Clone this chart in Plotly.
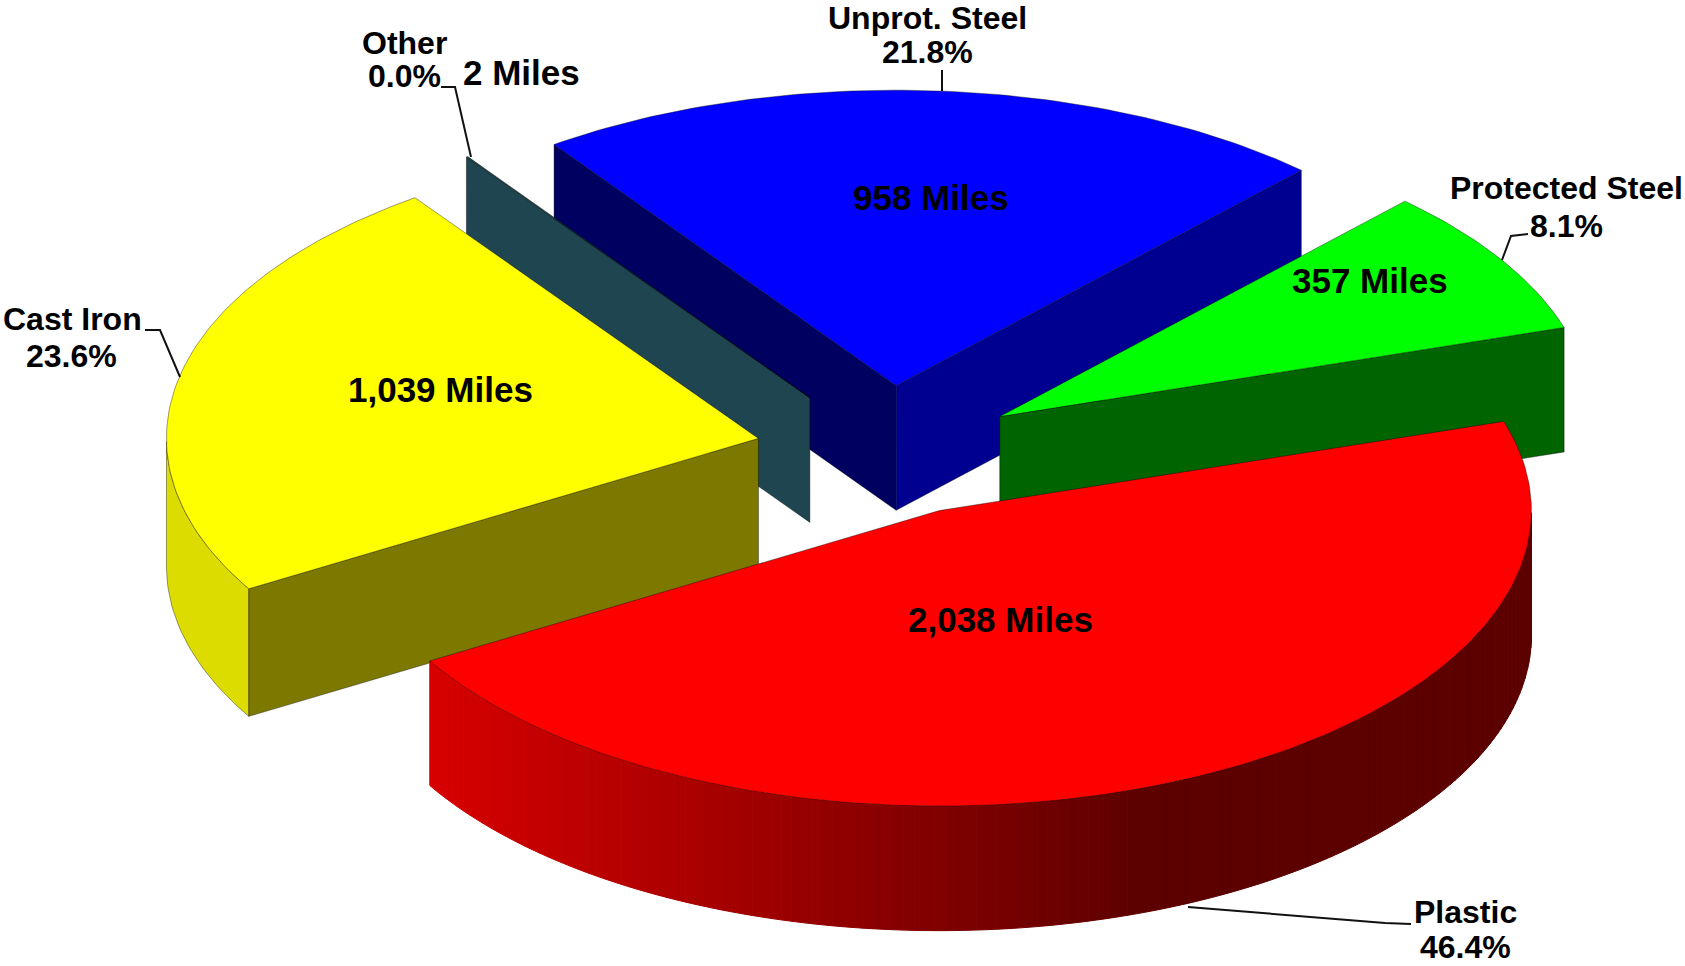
import numpy as np
import plotly.graph_objects as go

# ---- data ----
categories = ["Unprot. Steel", "Protected Steel", "Plastic", "Cast Iron", "Other"]
miles = [958, 357, 2038, 1039, 2]

# ---- styles ----
top_colors = ["#0000ff", "#00ff00", "#ff0000", "#ffff00", "#1f4550"]
start_wall_colors = ["#000060", "#006400", "#600000", "#7c7800", "#1f4550"]
end_wall_colors = ["#000090", "#006400", "#600000", "#7c7800", "#1f4550"]
rim_colors = ["#000090", "#006400", None, "#dcdc00", "#1f4550"]
pulls = [0.225, 0.225, 0.217, 0.222, 0.225]
depths = [124.6, 124.6, 124.6, 127.6, 124.6]
paint_order = [0, 4, 1, 3, 2]

W, H = 1685, 966
CX, CY, RX, RY = 887, 452, 592, 295.5
START_ANGLE = 125.3
EDGE = "rgba(0,0,0,0.38)"

total = sum(miles)
fractions = [m / total for m in miles]
angles = [START_ANGLE]
for f in fractions:
    angles.append(angles[-1] - 360 * f)


def project(t, ox, oy):
    r = np.radians(t)
    return ox + RX * np.cos(r), oy - RY * np.sin(r)


def poly(xs, ys, color, line=None):
    return go.Scatter(
        x=list(xs) + [xs[0]], y=list(ys) + [ys[0]], mode="lines", fill="toself",
        fillcolor=color, line=dict(color=line or color, width=1),
        hoverinfo="skip", showlegend=False,
    )


def red_gradient(x):
    f = min(max((x - 425) / (1150 - 425), 0), 1)
    return f"rgb({int(round(216 - f * 124))},0,0)"


fig = go.Figure()

for i in paint_order:
    a0, a1 = angles[i], angles[i + 1]
    mid = np.radians((a0 + a1) / 2)
    ox = CX + pulls[i] * RX * np.cos(mid)
    oy = CY - pulls[i] * RY * np.sin(mid)
    depth = depths[i]

    # outer rim: only the part that faces the viewer
    ts = np.arange(a0, a1 - 1e-9, -1.0).tolist() + [a1]
    front = [t for t in ts if np.sin(np.radians(t)) <= 0]
    if len(front) > 1:
        if rim_colors[i] is None:
            for k in range(len(front) - 1):
                seg = front[k:k + 2]
                px = [project(t, ox, oy)[0] for t in seg]
                py = [project(t, ox, oy)[1] for t in seg]
                xs = px + px[::-1]
                ys = py + [y + depth for y in py[::-1]]
                fig.add_trace(poly(xs, ys, red_gradient(sum(px) / len(px))))
        else:
            px = [project(t, ox, oy)[0] for t in front]
            py = [project(t, ox, oy)[1] for t in front]
            fig.add_trace(poly(px + px[::-1], py + [y + depth for y in py[::-1]], rim_colors[i], EDGE))

    # radial walls: only those that face the viewer
    if np.cos(np.radians(a0)) < 0:
        x0, y0 = project(a0, ox, oy)
        fig.add_trace(poly([ox, x0, x0, ox], [oy, y0, y0 + depth, oy + depth], start_wall_colors[i], EDGE))
    if np.cos(np.radians(a1)) > 0:
        x1, y1 = project(a1, ox, oy)
        fig.add_trace(poly([ox, x1, x1, ox], [oy, y1, y1 + depth, oy + depth], end_wall_colors[i], EDGE))

    # top face
    tx = [ox] + [project(t, ox, oy)[0] for t in ts]
    ty = [oy] + [project(t, ox, oy)[1] for t in ts]
    fig.add_trace(poly(tx, ty, top_colors[i], EDGE))

# ---- texts ----
FONT = "Liberation Sans"
pct = [f"{100 * f:.1f}%" for f in fractions]
miles_txt = [f"{m:,} Miles" for m in miles]

name_pos = [(927, 18), (1566, 188), (1465, 912), (72, 319), (404, 43)]
pct_pos = [(927, 52), (1566, 226), (1465, 947), (71, 356), (404, 76)]
miles_pos = [(931, 197), (1370, 280), (1000, 619), (440, 389), (521, 72)]

annots = []


def label(x, y, text, size):
    annots.append(dict(x=x, y=y, xref="x", yref="y", text=f"<b>{text}</b>", showarrow=False,
                       xanchor="center", yanchor="middle",
                       font=dict(family=FONT, size=size, color="#000000")))


for i in range(len(categories)):
    label(*name_pos[i], categories[i], 32)
    label(*pct_pos[i], pct[i], 32)
    label(*miles_pos[i], miles_txt[i], 35)

leaders = [
    [(942, 91), (942, 70)],
    [(1502, 260), (1511, 236), (1528, 234)],
    [(1188, 907), (1385, 923), (1411, 924)],
    [(180, 377), (160, 330), (145, 330)],
    [(471, 157), (455, 87), (441, 87)],
]
shapes = []
for pts in leaders:
    path = "M " + " L ".join(f"{x},{y}" for x, y in pts)
    shapes.append(dict(type="path", path=path, xref="x", yref="y",
                       line=dict(color="#111111", width=2)))

fig.update_layout(
    width=W, height=H, margin=dict(l=0, r=0, t=0, b=0),
    paper_bgcolor="white", plot_bgcolor="white", showlegend=False,
    xaxis=dict(range=[0, W], visible=False, fixedrange=True),
    yaxis=dict(range=[H, 0], visible=False, fixedrange=True),
    annotations=annots, shapes=shapes,
)
fig.write_html("out.html", config=dict(displayModeBar=False),
               post_script="document.body.style.margin='0';")
